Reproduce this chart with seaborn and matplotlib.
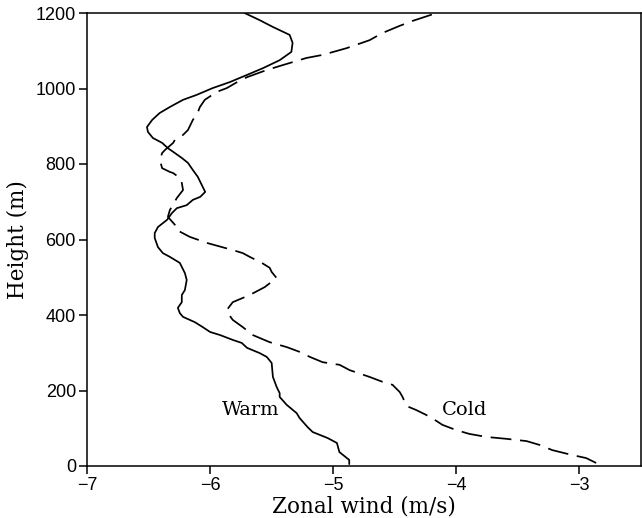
import matplotlib
matplotlib.use("Agg")
import matplotlib.pyplot as plt
import seaborn as sns
import pandas as pd

warm_u = [-4.87, -4.87, -4.95, -4.97, -5.045, -5.167, -5.208, -5.273, -5.297, -5.378, -5.435, -5.435,
          -5.459, -5.49, -5.50, -5.54, -5.597, -5.70, -5.743, -5.816, -5.92, -6.00, -6.06, -6.124,
          -6.22, -6.246, -6.262, -6.23, -6.23, -6.205, -6.19, -6.205, -6.246, -6.327, -6.384, -6.424,
          -6.45, -6.45, -6.424, -6.35, -6.31, -6.27, -6.19, -6.14, -6.08, -6.04, -6.067, -6.10,
          -6.14, -6.18, -6.23, -6.286, -6.343, -6.39, -6.465, -6.505, -6.513, -6.47, -6.41, -6.327,
          -6.22, -6.11, -5.98, -5.84, -5.70, -5.57, -5.435, -5.34, -5.33, -5.354, -5.49, -5.597, -5.72]
warm_z = [5, 16, 37, 61, 74, 90, 103, 127, 140, 162, 183, 193,
          209, 236, 273, 289, 299, 313, 326, 334, 347, 355, 368, 381,
          395, 405, 419, 434, 453, 466, 493, 511, 538, 554, 564, 580,
          604, 617, 633, 652, 670, 683, 691, 705, 713, 726, 744, 766,
          784, 803, 816, 829, 842, 856, 869, 885, 898, 917, 935, 951,
          970, 983, 1001, 1017, 1036, 1054, 1075, 1097, 1121, 1142, 1163, 1181, 1200]

cold_u = [-2.864, -2.945, -3.058, -3.22, -3.326, -3.43, -3.594, -3.756, -3.894, -4.0, -4.113, -4.16,
          -4.243, -4.324, -4.405, -4.437, -4.46, -4.518, -4.6, -4.705, -4.867, -4.948, -5.086, -5.19,
          -5.27, -5.378, -5.516, -5.654, -5.735, -5.816, -5.856, -5.865, -5.816, -5.678, -5.556, -5.46,
          -5.50, -5.516, -5.58, -5.678, -5.735, -5.816, -6.027, -6.165, -6.27, -6.27, -6.343, -6.327,
          -6.27, -6.22, -6.23, -6.246, -6.30, -6.327, -6.39, -6.408, -6.39, -6.367, -6.30, -6.286,
          -6.22, -6.18, -6.14, -6.108, -6.083, -6.043, -5.946, -5.865, -5.78, -5.70, -5.54, -5.41,
          -5.216, -5.086, -4.89, -4.705, -4.6, -4.46, -4.356, -4.16]
cold_z = [8, 21, 29, 42, 56, 66, 72, 77, 85, 95, 109, 119,
          135, 148, 159, 183, 196, 215, 223, 236, 254, 268, 275, 289,
          302, 315, 328, 347, 368, 387, 405, 413, 434, 453, 474, 498,
          514, 525, 538, 554, 564, 572, 591, 607, 625, 633, 660, 678,
          710, 731, 750, 763, 776, 779, 789, 811, 829, 837, 856, 864,
          877, 890, 917, 930, 951, 970, 991, 1001, 1017, 1030, 1049, 1062,
          1081, 1089, 1107, 1128, 1147, 1166, 1179, 1200]

x_ticks = [-7, -6, -5, -4, -3]
y_ticks = [0, 200, 400, 600, 800, 1000, 1200]

sns.set_style("ticks", {"axes.edgecolor": "black", "xtick.color": "black",
                        "ytick.color": "black", "text.color": "black",
                        "axes.labelcolor": "black"})
fig = plt.figure(figsize=(6.42, 5.18), dpi=100)
ax = fig.add_axes([87/642, 52/518, (641-87)/642, (466-13)/518])

df_w = pd.DataFrame({"u": warm_u, "z": warm_z})
df_c = pd.DataFrame({"u": cold_u, "z": cold_z})
sns.lineplot(data=df_w, x="u", y="z", sort=False, estimator=None, color="black", lw=1.25, ax=ax)
sns.lineplot(data=df_c, x="u", y="z", sort=False, estimator=None, color="black", lw=1.25, ax=ax)
ax.lines[1].set_dashes((12, 5))

ax.set_xlim(-7, -2.5)
ax.set_ylim(0, 1200)
ax.set_xticks(x_ticks)
ax.set_xticklabels(["\u2212%d" % abs(t) for t in x_ticks])
ax.set_yticks(y_ticks)
ax.tick_params(direction="out", length=6, width=1.1, labelsize=13, pad=2, colors="black")
for lab in ax.get_xticklabels() + ax.get_yticklabels():
    lab.set_fontfamily("Liberation Sans")
for s in ax.spines.values():
    s.set_linewidth(1.1)
    s.set_visible(True)
    s.set_color("black")

ax.set_xlabel("Zonal wind (m/s)", fontsize=15.5, family="DejaVu Serif", labelpad=1, color="black")
ax.set_ylabel("Height (m)", fontsize=15.5, family="DejaVu Serif", labelpad=5, color="black")
ax.text(-5.67, 148, "Warm", fontsize=14, family="DejaVu Serif", ha="center", va="center", color="black")
ax.text(-3.93, 148, "Cold", fontsize=14, family="DejaVu Serif", ha="center", va="center", color="black")

fig.savefig("out.png", dpi=100)
